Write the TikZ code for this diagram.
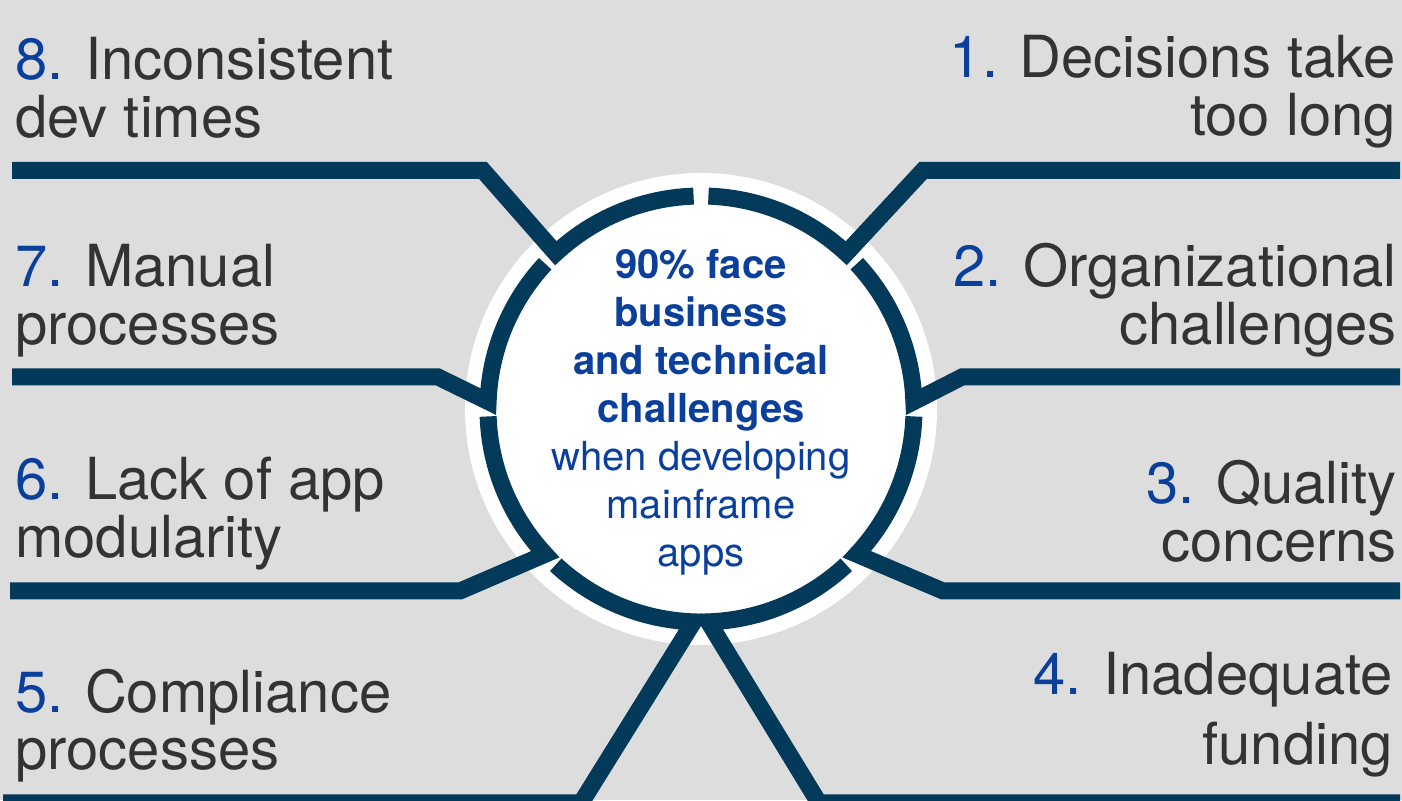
\documentclass[tikz,border=0pt]{standalone}
\usepackage{fontspec}
\setmainfont{TeX Gyre Heros}
\usetikzlibrary{calc}
\definecolor{ringblue}{HTML}{033A5A}
\definecolor{numblue}{HTML}{0B3F9C}
\definecolor{txtgray}{HTML}{333333}
\definecolor{bggray}{HTML}{DDDDDD}
\newcommand{\itemnum}[1]{\textcolor{numblue}{#1.}}
\tikzset{
	spoke/.style={line width=17pt, color=ringblue, line join=miter},
	itemtxt/.style={font=\fontsize{58}{58}\selectfont, text=txtgray, inner sep=0pt},
	itemL/.style={itemtxt, anchor=base west, align=left},
	itemR/.style={itemtxt, anchor=base east, align=right}
}

\begin{document}
\begin{tikzpicture}[x=1pt,y=1pt]
			%%%%% START %%%%%
			
			\fill[bggray] (0,0) rectangle (1402,800);
			\useasboundingbox (0,0) rectangle (1402,800);
			
			\coordinate (c) at (701,391);
			\fill[white] (c) circle (236);
			
			% right side
			\draw[spoke] ($(c)+(88:213)$) arc (88:47:213) -- (923,629.5) -- (1400,629.5);
			\draw[spoke] ($(c)+(43:213)$) arc (43:2:213) -- (962,423) -- (1400,423);
			\draw[spoke] ($(c)+(-2:213)$) arc (-2:-43:213) -- (943,209) -- (1400,209);
			\draw[spoke] ($(c)+(-47:213)$) arc (-47:-88:213) -- (819,-3) -- (1400,-3);
			
			% left side
			\draw[spoke] ($(c)+(227:213)$) arc (227:268:213) -- (581,-3) -- (3,-3);
			\draw[spoke] ($(c)+(182:213)$) arc (182:223:213) -- (460,209) -- (10,209);
			\draw[spoke] ($(c)+(137:213)$) arc (137:178:213) -- (438,423) -- (12,423);
			\draw[spoke] ($(c)+(92:213)$) arc (92:133:213) -- (483,629.5) -- (12,629.5);
			
			% base anchors sit on the last line
			\node[font=\fontsize{40}{48}\selectfont, text=numblue, align=center, anchor=base, inner sep=0pt] (core) at (701,233)
				{\textbf{90\% face}\\\textbf{business}\\\textbf{and technical}\\\textbf{challenges}\\when developing\\mainframe\\apps};
			
			\node[itemR] (d1) at (1396,664) {\itemnum{1} Decisions take\\too long};
			\node[itemR] (d2) at (1397,455) {\itemnum{2} Organizational\\challenges};
			\node[itemR] (d3) at (1397,238) {\itemnum{3} Quality\\concerns};
			\node[itemR] (d4) at (1393,35) {\itemnum{4} Inadequate\\[12pt]funding};
			\node[itemL] (d5) at (15,30) {\itemnum{5} Compliance\\processes};
			\node[itemL] (d6) at (15,242) {\itemnum{6} Lack of app\\modularity};
			\node[itemL] (d7) at (15,455) {\itemnum{7} Manual\\processes};
			\node[itemL] (d8) at (15,662) {\itemnum{8} Inconsistent\\dev times};
			
			%%%%% END %%%%%
\end{tikzpicture}
\end{document}
